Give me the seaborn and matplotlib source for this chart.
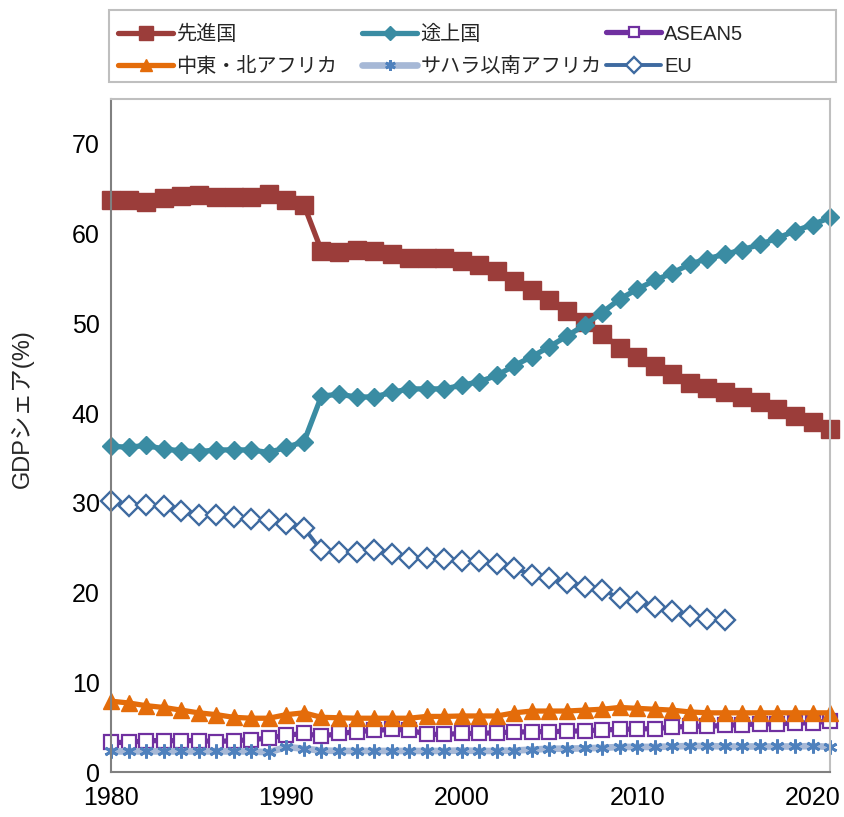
import numpy as np
import pandas as pd
import seaborn as sns
import matplotlib.pyplot as plt
from matplotlib.patches import Rectangle


# --- DATOS ---
years = list(range(1980, 2022))
eu_years = list(range(1980, 2016))

advanced = [63.7, 63.8, 63.5, 64.0, 64.2, 64.3, 64.1, 64.1, 64.1, 64.4, 63.8, 63.2,
            58.1, 57.9, 58.2, 58.1, 57.7, 57.3, 57.3, 57.3,
            56.9, 56.5, 55.8, 54.7, 53.7, 52.6, 51.4, 50.2, 48.8, 47.3, 46.2,
            45.2, 44.4, 43.4, 42.8, 42.3, 41.8, 41.2, 40.5, 39.7, 39.0, 38.2]
developing = [36.3, 36.2, 36.4, 36.0, 35.8, 35.7, 35.9, 35.9, 35.9, 35.6, 36.2, 36.8,
              41.9, 42.1, 41.8, 41.8, 42.3, 42.7, 42.7, 42.7,
              43.1, 43.5, 44.2, 45.3, 46.3, 47.4, 48.6, 49.8, 51.2, 52.7, 53.8,
              54.8, 55.6, 56.6, 57.2, 57.7, 58.2, 58.8, 59.5, 60.3, 61.0, 61.8]
asean5 = [3.3, 3.3, 3.5, 3.5, 3.5, 3.5, 3.4, 3.5, 3.6, 3.8, 4.1, 4.3,
          4.0, 4.3, 4.5, 4.65, 4.75, 4.7, 4.2, 4.2,
          4.3, 4.3, 4.4, 4.45, 4.5, 4.5, 4.55, 4.6, 4.7, 4.75, 4.8,
          4.85, 5.0, 5.1, 5.1, 5.2, 5.3, 5.35, 5.4, 5.45, 5.5, 5.7]
mena = [7.9, 7.7, 7.4, 7.2, 6.9, 6.6, 6.4, 6.1, 6.0, 6.0, 6.4, 6.6,
        6.1, 6.05, 6.0, 6.0, 6.0, 6.0, 6.2, 6.2,
        6.25, 6.25, 6.25, 6.6, 6.8, 6.8, 6.8, 6.9, 7.0, 7.2, 7.1,
        7.0, 6.9, 6.7, 6.6, 6.6, 6.6, 6.6, 6.6, 6.6, 6.6, 6.6]
ssa = [2.3, 2.3, 2.3, 2.3, 2.3, 2.3, 2.3, 2.3, 2.3, 2.2, 2.8, 2.6,
       2.4, 2.35, 2.35, 2.35, 2.35, 2.35, 2.35, 2.35,
       2.4, 2.35, 2.35, 2.4, 2.5, 2.6, 2.6, 2.65, 2.7, 2.8, 2.8,
       2.8, 2.85, 2.9, 2.9, 2.85, 2.85, 2.85, 2.85, 2.85, 2.9, 2.8]
eu = [30.2, 29.7, 29.8, 29.7, 29.1, 28.7, 28.6, 28.4, 28.2, 28.1, 27.6, 27.2,
      24.7, 24.5, 24.5, 24.7, 24.3, 23.9, 23.9, 23.7,
      23.5, 23.5, 23.2, 22.7, 22.0, 21.6, 21.1, 20.6, 20.3, 19.4, 19.0,
      18.4, 18.0, 17.4, 17.1, 16.9]

labels = ['先進国', '途上国', 'ASEAN5', '中東・北アフリカ', 'サハラ以南アフリカ', 'EU']


# --- ESTILO ---
sns.set_theme(style="white")
plt.rcParams['font.family'] = ['Liberation Sans', 'Noto Sans CJK JP', 'DejaVu Sans']

fig = plt.figure(figsize=(8.44, 8.17), dpi=100)
ax = fig.add_axes([0.1315, 0.055, 0.852, 0.8238])

series = [
    dict(x=years, y=advanced, label=labels[0], color='#9B3D3A', marker='s',
         markersize=12.5, linewidth=3.8, mfc='#9B3D3A', mec='#9B3D3A'),
    dict(x=years, y=developing, label=labels[1], color='#3A8CA3', marker='D',
         markersize=9, linewidth=3.8, mfc='#3A8CA3', mec='#3A8CA3'),
    dict(x=years, y=asean5, label=labels[2], color='#7030A0', marker='s',
         markersize=10, linewidth=3.8, mfc='white', mec='#7030A0', mew=1.6),
    dict(x=years, y=mena, label=labels[3], color='#E46C0A', marker='^',
         markersize=11, linewidth=3.8, mfc='#E46C0A', mec='#E46C0A'),
    dict(x=years, y=ssa, label=labels[4], color='#A6B8D6', marker=(6, 2, 0),
         markersize=10, linewidth=4.8, mfc='#4F81BD', mec='#4F81BD', mew=2),
    dict(x=eu_years, y=eu, label=labels[5], color='#3E6AA0', marker='D',
         markersize=10.5, linewidth=2.8, mfc='white', mec='#3E6AA0', mew=1.7),
]

for s in series:
    sns.lineplot(x=s['x'], y=s['y'], ax=ax, label=s['label'], color=s['color'],
                 marker=s['marker'], markersize=s['markersize'], linewidth=s['linewidth'],
                 markerfacecolor=s['mfc'], markeredgecolor=s['mec'],
                 markeredgewidth=s.get('mew', 1.0), legend=False, clip_on=False)

ax.set_xlim(1980, 2021)
ax.set_ylim(0, 75)
ax.set_xticks([1980, 1990, 2000, 2010, 2020])
ax.set_yticks([0, 10, 20, 30, 40, 50, 60, 70])
ax.tick_params(axis='both', direction='in', length=6, width=1.2, colors='#808080',
               labelsize=18, labelcolor='black', pad=8)
ax.tick_params(axis='x', pad=10)
ax.set_xlabel('')
ax.set_ylabel('GDPシェア(%)', fontsize=17)
ax.yaxis.set_label_coords(-0.107, 0.54)

for side in ['left', 'bottom']:
    ax.spines[side].set_color('#808080')
    ax.spines[side].set_linewidth(1.5)
for side in ['top', 'right']:
    ax.spines[side].set_color('#BFBFBF')
    ax.spines[side].set_linewidth(1.5)
    ax.spines[side].set_visible(True)

# --- LEYENDA (tres columnas de igual ancho, como en Excel) ---
handles, lbls = ax.get_legend_handles_labels()
columns = [(0, 3), (1, 4), (2, 5)]
col_x = [118 / 844, 362 / 844, 606 / 844]
for cx, (a, b) in zip(col_x, columns):
    fig.legend([handles[a], handles[b]], [lbls[a], lbls[b]],
               loc='upper left', bbox_to_anchor=(cx, 0.970), ncol=1,
               fontsize=14.5, frameon=False, handlelength=2.75, handletextpad=0.15,
               borderpad=0, borderaxespad=0, labelspacing=0.65, markerscale=0.75)

fig.patches.append(Rectangle((109 / 844, 0.8996), (836 - 109) / 844, 0.0882,
                             transform=fig.transFigure, fill=False,
                             edgecolor='#BFBFBF', linewidth=1.5))

fig.savefig('out.png', dpi=100)
